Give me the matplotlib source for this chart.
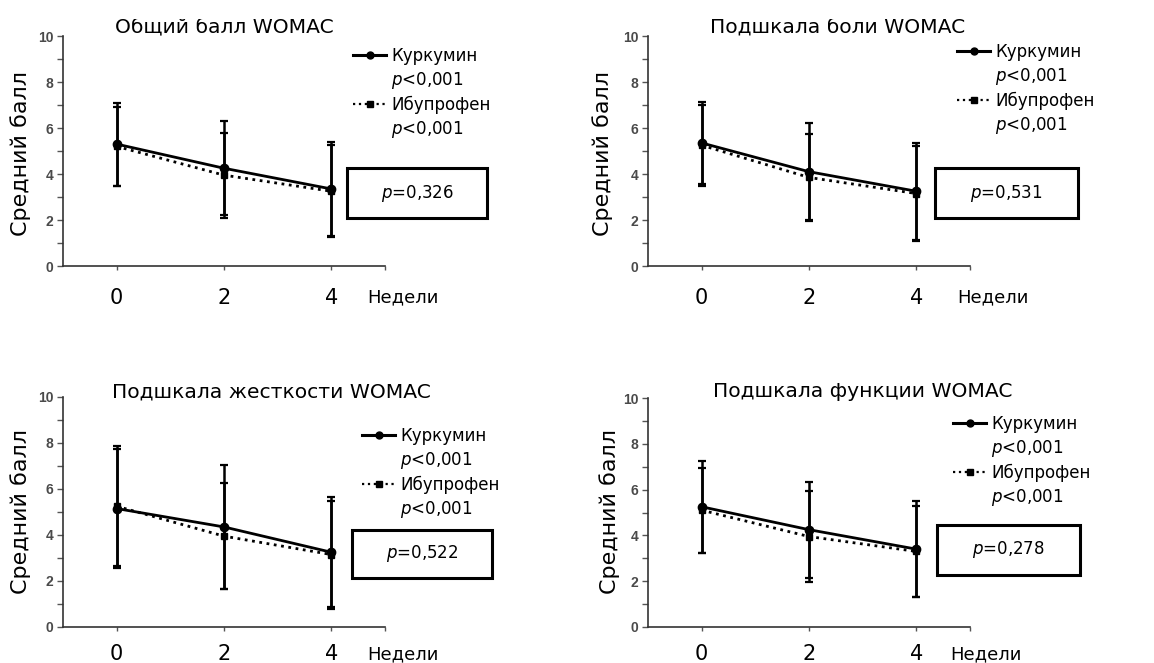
import matplotlib
matplotlib.use('Agg')
import matplotlib.pyplot as plt
from matplotlib.lines import Line2D
from matplotlib.patches import Rectangle
from matplotlib.transforms import Bbox

# ---------------- data ----------------
weeks = [0, 2, 4]
xtick_labels = ['0', '2', '4']

titles = ['Общий балл WOMAC', 'Подшкала боли WOMAC',
          'Подшкала жесткости WOMAC', 'Подшкала функции WOMAC']
series_names = ['Куркумин', 'Ибупрофен']
p_within = '<0,001'
p_between = ['0,326', '0,531', '0,522', '0,278']

total_cur = [5.3, 4.25, 3.35]
total_cur_sd = [1.8, 2.05, 2.05]
total_ibu = [5.2, 3.95, 3.25]
total_ibu_sd = [1.7, 1.85, 2.0]

pain_cur = [5.35, 4.1, 3.25]
pain_cur_sd = [1.8, 2.1, 2.1]
pain_ibu = [5.25, 3.85, 3.15]
pain_ibu_sd = [1.75, 1.9, 2.05]

stiff_cur = [5.15, 4.35, 3.25]
stiff_cur_sd = [2.6, 2.7, 2.4]
stiff_ibu = [5.25, 3.95, 3.15]
stiff_ibu_sd = [2.6, 2.3, 2.35]

func_cur = [5.25, 4.25, 3.4]
func_cur_sd = [2.0, 2.1, 2.1]
func_ibu = [5.1, 3.95, 3.3]
func_ibu_sd = [1.85, 2.0, 2.0]

ylabel = 'Средний балл'
xlabel = 'Недели'

# ---------------- style ----------------
W, H = 1154, 663
FONT = 'DejaVu Sans'
plt.rcParams['font.family'] = [FONT]
plt.rcParams['mathtext.fontset'] = 'dejavusans'

fig = plt.figure(figsize=(W / 100, H / 100), dpi=100)


def fx(x):
    return x / W


def fy(y):
    return 1 - y / H


data = [
    (total_cur, total_cur_sd, total_ibu, total_ibu_sd),
    (pain_cur, pain_cur_sd, pain_ibu, pain_ibu_sd),
    (stiff_cur, stiff_cur_sd, stiff_ibu, stiff_ibu_sd),
    (func_cur, func_cur_sd, func_ibu, func_ibu_sd),
]

# layout (pixel positions)
layout = [
    dict(ax=(63, 36, 385, 266), title=(224, 33), ylab=(21, 153), xlab=(367, 297),
         leg=(353, 57), box=(347, 168, 487, 218), clip=True, xpad=13),
    dict(ax=(648, 36, 970, 266), title=(838, 33), ylab=(603, 153), xlab=(957, 297),
         leg=(957, 53), box=(935, 168, 1078, 218), clip=True, xpad=13),
    dict(ax=(63, 397, 385, 627), title=(271, 397), ylab=(21, 511), xlab=(367, 654),
         leg=(362, 437), box=(352, 530, 492, 578), clip=False, xpad=9),
    dict(ax=(648, 398, 970, 627), title=(863, 397), ylab=(610, 511), xlab=(950, 654),
         leg=(953, 425), box=(937, 525, 1080, 575), clip=False, xpad=9),
]

for i, (L, (cur, cur_sd, ibu, ibu_sd)) in enumerate(zip(layout, data)):
    x0, y0, x1, y1 = L['ax']
    ax = fig.add_axes([fx(x0), fy(y1), fx(x1) - fx(x0), fy(y0) - fy(y1)])
    ax.errorbar(weeks, ibu, yerr=ibu_sd, color='k', lw=2, ls=':', marker='s', ms=5,
                capsize=3, capthick=1.6, elinewidth=1.8, zorder=3)
    ax.errorbar(weeks, cur, yerr=cur_sd, color='k', lw=2, ls='-', marker='o', ms=6,
                capsize=3, capthick=1.6, elinewidth=1.8, zorder=4)
    ax.set_xlim(-1, 5)
    ax.set_ylim(0, 10)
    for s in ['top', 'right']:
        ax.spines[s].set_visible(False)
    for s in ['left', 'bottom']:
        ax.spines[s].set_color('#333333')
        ax.spines[s].set_linewidth(1.2)
    ax.set_yticks(range(0, 11, 2))
    ax.set_yticks(range(1, 10, 2), minor=True)
    ax.tick_params(axis='y', which='both', direction='out', length=4, width=1,
                   color='#555555', labelsize=10, labelcolor='#4a4a4a', pad=3)
    for lbl in ax.get_yticklabels():
        lbl.set_fontweight('bold')
        lbl.set_family(['Liberation Sans', 'DejaVu Sans'])
    ax.set_xticks(weeks + [5])
    ax.set_xticklabels(xtick_labels + [''], fontsize=15)
    ax.tick_params(axis='x', direction='out', length=3, width=1, color='#555555',
                   pad=L['xpad'])

    # title
    tx, ty = L['title']
    t = fig.text(fx(tx), fy(ty), titles[i], ha='center', va='baseline', fontsize=14.6)
    if L['clip']:
        t.set_clip_box(Bbox.from_extents(0, 0, W, H - 19))
        t.set_clip_on(True)

    # y label
    lx, ly = L['ylab']
    fig.text(fx(lx), fy(ly), ylabel, rotation=90, ha='center', va='center', fontsize=16)
    # x label
    xx, xy = L['xlab']
    fig.text(fx(xx), fy(xy), xlabel, ha='left', va='center', fontsize=13)

    # legend
    handles = [
        Line2D([], [], color='k', lw=2.2, marker='o', ms=5),
        Line2D([], [], alpha=0),
        Line2D([], [], color='k', lw=1.6, ls=':', marker='s', ms=4),
        Line2D([], [], alpha=0),
    ]
    labels = [series_names[0], '$p$' + p_within, series_names[1], '$p$' + p_within]
    hx, hy = L['leg']
    ax.legend(handles, labels, loc='upper left', bbox_to_anchor=(fx(hx), fy(hy - 10)),
              bbox_transform=fig.transFigure, frameon=False, fontsize=12,
              handlelength=2.0, handletextpad=0.3, labelspacing=0.3,
              borderpad=0, borderaxespad=0)

    # between-group p box
    bx0, by0, bx1, by1 = L['box']
    fig.add_artist(Rectangle((fx(bx0), fy(by1)), fx(bx1) - fx(bx0), fy(by0) - fy(by1),
                             transform=fig.transFigure, fill=False, lw=2.2, ec='k'))
    fig.text(fx((bx0 + bx1) / 2), fy((by0 + by1) / 2), '$p$=' + p_between[i],
             ha='center', va='center', fontsize=12)

fig.savefig('out.png', dpi=100)
